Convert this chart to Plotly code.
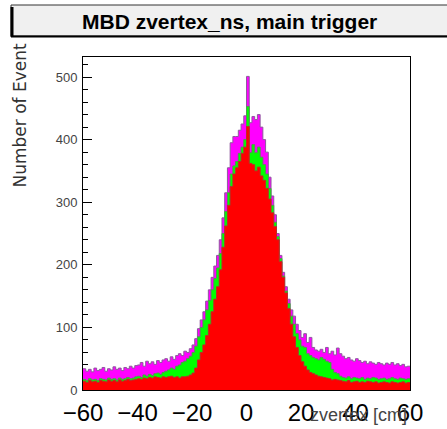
import numpy as np
import plotly.graph_objects as go

# ---- data (1 cm bins from -60 to 60) ----
bin_lo, bin_hi, n_bins = -60, 60, 120

all_events = [34, 30, 33, 29, 35, 31, 33, 36, 30, 34, 32, 37, 33, 35, 31, 36, 34, 38, 35, 39,
              40, 44, 38, 46, 42, 45, 41, 47, 44, 48,
              50, 46, 53, 49, 55,
              58, 55, 62, 60, 66, 72, 82, 98, 112, 125, 142, 160, 180, 198, 215, 240, 275, 315, 355, 395, 405, 405, 415, 425, 438,
              501, 427, 437, 432, 440, 420, 400, 380, 340, 310, 280, 250, 215, 188, 165, 145, 128, 118, 105, 95, 84, 90, 76, 84, 68,
              64, 62, 65, 60, 68, 58, 62, 56, 67, 58,
              54, 50, 52, 48, 46, 50, 47, 44, 46, 42, 45, 43, 41, 44, 42, 40, 43, 41, 44, 40, 42, 39, 41, 37, 38]

green_events = [17, 15, 18, 16, 17, 15, 18, 17, 16, 19, 17, 18, 16, 19, 17, 18, 20, 18, 19, 21,
                22, 20, 24, 22, 25, 23, 26, 27, 25, 28,
                30, 32, 35, 33, 38,
                40, 44, 46, 50, 54, 60, 70, 85, 100, 112, 128, 143, 160, 178, 195, 218, 250, 285, 315, 345, 358, 365, 378, 388, 400,
                453, 379, 392, 379, 388, 372, 360, 345, 322, 295, 268, 245, 210, 182, 158, 138, 118, 105, 90, 80, 70, 68, 58, 55, 52,
                50, 48, 52, 49, 46, 44, 33, 28, 26, 22,
                20, 19, 21, 18, 20, 19, 18, 20, 17, 19, 18, 20, 19, 17, 18, 19, 17, 18, 20, 18, 17, 19, 18, 17, 18]

red_events = [14, 12, 15, 13, 14, 12, 15, 14, 13, 16, 14, 15, 13, 16, 14, 15, 17, 15, 16, 17,
              18, 17, 19, 18, 20, 19, 21, 20, 19, 21,
              20, 21, 22, 20, 21,
              19, 21, 21, 22, 24, 27, 35, 48, 60, 72, 87, 105, 125, 145, 165, 192, 228, 262, 295, 325, 345, 355, 365, 378, 388,
              421, 362, 360, 350, 356, 342, 335, 322, 305, 283, 261, 240, 205, 180, 155, 130, 105, 85, 68, 55, 45, 38, 32, 28, 26,
              24, 22, 21, 20, 19, 18, 16, 17, 16, 15,
              14, 13, 15, 12, 13, 14, 12, 13, 12, 14, 13, 12, 13, 11, 12, 13, 12, 11, 13, 12, 11, 12, 13, 11, 12]

x_tick_vals = [-60, -40, -20, 0, 20, 40, 60]
x_tick_text = ["\u221260", "\u221240", "\u221220", "0", "20", "40", "60"]
y_tick_vals = [0, 100, 200, 300, 400, 500]

title_text = "MBD zvertex_ns, main trigger"
x_title = "zvertex [cm]"
y_title = "Number of Events"

# ---- figure ----
W, H = 447, 429
L, R, T, B = 83, 37, 57, 39
pw, ph = W - L - R, H - T - B


def px_x(p):
    return (p - L) / pw


def px_y(p):
    return (H - B - p) / ph


edges = np.linspace(bin_lo, bin_hi, n_bins + 1)

fig = go.Figure()
for vals, fillc, linec in [(all_events, "#ff00ff", "#8e5a9e"),
                           (green_events, "#00ff00", "#4f9a4f"),
                           (red_events, "#ff0000", "#c02828")]:
    fig.add_trace(go.Scatter(
        x=edges, y=list(vals) + [vals[-1]],
        mode="lines", line=dict(shape="hv", width=1, color=linec),
        fill="tozeroy", fillcolor=fillc, showlegend=False, hoverinfo="skip"))

fig.update_layout(
    width=W, height=H,
    margin=dict(l=L, r=R, t=T, b=B, pad=0, autoexpand=False),
    paper_bgcolor="white", plot_bgcolor="white",
    showlegend=False,
)
fig.update_xaxes(
    range=[bin_lo, bin_hi], showgrid=False, zeroline=False, automargin=False,
    tickvals=x_tick_vals, ticktext=x_tick_text, ticks="",
    tickfont=dict(family="Liberation Sans", size=24, color="black"),
    ticklabelstandoff=1,
    showline=True, linecolor="black", linewidth=1, mirror=True,
    layer="below traces",
)
fig.update_yaxes(
    range=[0, 532], showgrid=False, zeroline=False, automargin=False,
    tickvals=y_tick_vals, ticks="inside", ticklen=9, tickcolor="black", tickwidth=1,
    minor=dict(dtick=20, tick0=0, ticks="inside", ticklen=5, tickcolor="black", tickwidth=1),
    tickfont=dict(family="Liberation Sans", size=13, color="#444444"),
    ticklabelstandoff=2,
    showline=True, linecolor="black", linewidth=1, mirror=True,
    layer="below traces",
)

# title box
fig.add_shape(type="rect", xref="paper", yref="paper",
              x0=px_x(11), x1=px_x(460), y0=px_y(36), y1=px_y(5),
              fillcolor="#f0f0f0", line=dict(color="#333333", width=1), layer="above")
fig.add_shape(type="line", xref="paper", yref="paper",
              x0=px_x(12), x1=px_x(12), y0=px_y(37), y1=px_y(7),
              line=dict(color="black", width=3), layer="above")
fig.add_shape(type="line", xref="paper", yref="paper",
              x0=px_x(11), x1=px_x(460), y0=px_y(36.5), y1=px_y(36.5),
              line=dict(color="black", width=2), layer="above")

fig.add_annotation(xref="paper", yref="paper", x=px_x(229), y=px_y(21),
                   text="<b>" + title_text + "</b>", showarrow=False,
                   xanchor="center", yanchor="middle",
                   font=dict(family="Liberation Sans", size=21, color="black"))

fig.add_annotation(xref="paper", yref="paper", x=px_x(19), y=px_y(190),
                   text=y_title[:-1], showarrow=False, textangle=-90,
                   xanchor="center", yanchor="bottom",
                   font=dict(family="DejaVu Sans", size=17, color="#333333"))

fig.add_annotation(xref="paper", yref="paper", x=px_x(409), y=px_y(415),
                   text=x_title, showarrow=False,
                   xanchor="right", yanchor="middle",
                   font=dict(family="Liberation Sans", size=18, color="#444444"))

fig.write_html("out.html")
